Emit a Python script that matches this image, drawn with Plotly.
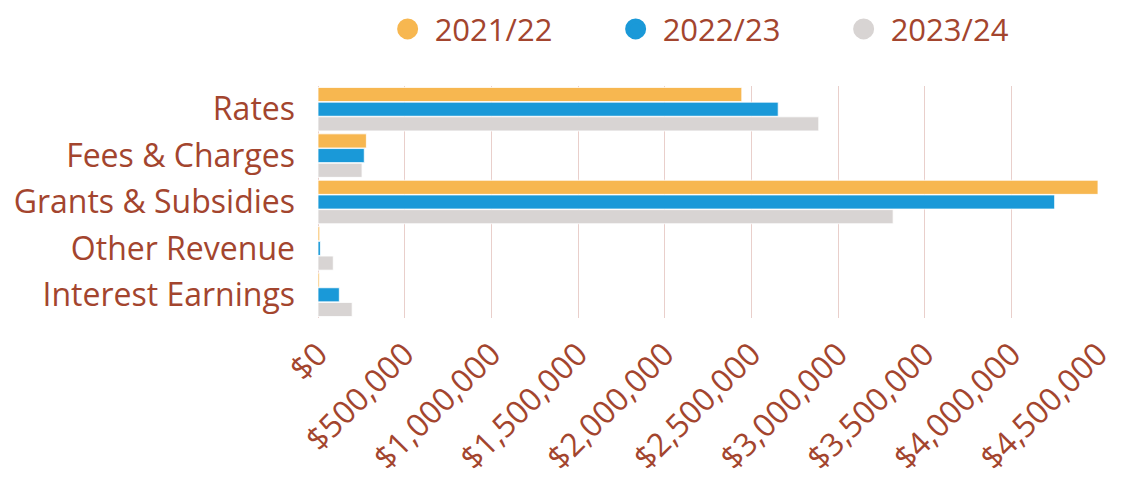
import plotly.graph_objects as go

categories = ["Rates", "Fees & Charges", "Grants & Subsidies", "Other Revenue", "Interest Earnings"]
series_names = ["2021/22", "2022/23", "2023/24"]
v_2122 = [2445000, 279000, 4500000, 10000, 8000]
v_2223 = [2655000, 267000, 4250000, 14000, 123000]
v_2324 = [2889000, 254000, 3318000, 88000, 197000]
colors = ["#F7B750", "#1A99D8", "#D8D4D3"]
tick_vals = [0, 500000, 1000000, 1500000, 2000000, 2500000, 3000000, 3500000, 4000000, 4500000]

text_color = "#A3452E"
font_family = "Open Sans, Lato, sans-serif"

fig = go.Figure()
for name, vals, col in zip(series_names, [v_2122, v_2223, v_2324], colors):
    fig.add_trace(go.Bar(
        y=categories, x=vals, orientation="h", name=name,
        marker=dict(color=col, line=dict(color="rgba(255,255,255,0.8)", width=1)),
        showlegend=False,
    ))
for name, col in zip(series_names, colors):
    fig.add_trace(go.Scatter(
        x=[None], y=[None], mode="markers", name=name,
        marker=dict(color=col, size=22, symbol="circle", line=dict(color=col, width=5)),
    ))

fig.update_layout(
    width=1122, height=482,
    paper_bgcolor="white", plot_bgcolor="white",
    margin=dict(l=310, r=32, t=78, b=172, autoexpand=False),
    barmode="group", bargap=0.05, bargroupgap=0.04,
    font=dict(family=font_family, color=text_color),
    legend=dict(
        orientation="h", x=0.0803, xanchor="left", y=1.361, yanchor="top",
        font=dict(size=31, color=text_color), itemsizing="trace",
        traceorder="normal", itemwidth=44,
        entrywidth=169, entrywidthmode="pixels",
    ),
    xaxis=dict(
        range=[0, 4500000], tickvals=tick_vals, tickformat="$,.0f",
        tickangle=-45, tickfont=dict(size=32, color=text_color),
        showgrid=True, gridcolor="#E9CFCB", gridwidth=1,
        zeroline=True, zerolinecolor="#E9CFCB", zerolinewidth=1,
        showline=False, ticks="", automargin=False, ticklabelstandoff=10,
    ),
    yaxis=dict(
        autorange="reversed", tickfont=dict(size=32, color=text_color),
        showgrid=False, ticks="", ticklabelstandoff=22, automargin=False,
    ),
)

fig.write_html("out.html")
